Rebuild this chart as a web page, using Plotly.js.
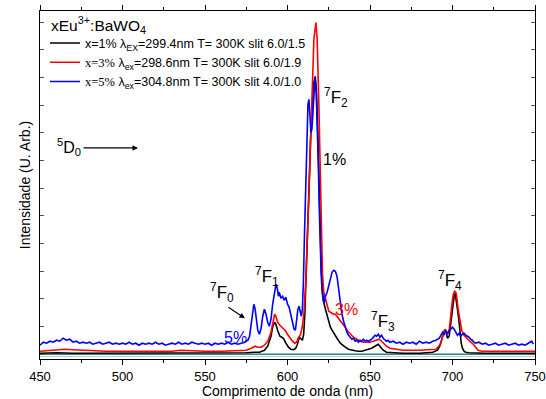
<!DOCTYPE html>
<html>
<head>
<meta charset="utf-8">
<script src="https://cdn.plot.ly/plotly-3.0.1.min.js"></script>
<style>html,body{margin:0;padding:0;background:#fff;}#chart{width:546px;height:399px;}</style>
</head>
<body>
<div id="chart"></div>
<script>
// ---- data (wavelength in nm, intensity in arbitrary units) ----
const blackX = [450,460,470,480,500,520,540,560,570,575,580,583,586,588,590,591,592.2,593,594,595.4,596.5,597.5,599,600.6,602,603.8,605,606,607.2,608,609,609.8,610.5,611.3,612,613,614,615,616,616.8,617.5,618.3,619,619.8,620.5,621.3,622,623,624,625,626,627,628,630,632,633.4,635,637,639,641,643,645,647,649,651,653,655,656.5,658,660,665,670,680,688,691,692.5,694,695,695.8,697,698,699,700,701,701.6,702.3,703,703.8,704.5,705.3,706,707,708,710,720,750];
const blackY = [1,1.5,1,1,1,1,1,1,1.5,1.5,2,2,4,8,18,27,32,30,24,18,17,16,11,7,5,4.5,6,10,17,16,14,20,40,80,120,170,215,250,272,278,265,225,175,120,85,62,52,45,38,32,27,24,21,16,11,9,7,5,4,3.5,3,3,4,5,6,8,10,7,4,2,1.5,1,1,2,4,9,18,23,24,16,18,32,48,58,61,55,45,35,22,11,6,3,2,1.5,1,1];

const redX = [450,455,460,465,470,475,480,490,500,510,520,530,535,540,550,560,570,575,578,580.5,582,584,586,588,590,591,592.2,593,594,595.4,597,598.5,600,601.5,603,604.5,605.5,606.5,607.3,608,609,610,611,612,613,614,615,616,617.2,618,619,619.8,620.5,621.2,622,623,624,625,626,627,628,629,630,631,632,633.8,635,636.5,638,640,642,644,646,648,650,652,654,655.6,657,658,660,662,665,670,680,688,690,692.4,693.5,694.5,695.3,696,697,698,699,700,700.5,701.3,702,702.6,703.5,704.5,705.6,707,708.6,710.5,712.6,714,715.5,718,720,730,740,750];
const redY = [3,3.5,4,5,4.5,4,3.5,3,3,3,3,3,4,3.5,3,3,3.5,4,6,8,7,7,9,13,22,32,40,38,32,29,26,24,20,16,13,11,12,16,18,20,28,42,70,110,160,215,270,315,332,315,250,180,120,80,62,55,47,43,42,41,40,40,38,35,33,30,27,23,20,17,15,13,12,12,12,13,14,15,13,11,8,6,5,4,4,4.5,5,9.5,14,21,25,23,20,24,44,55,60,63,62,57,44,34,24,19,16,13,10,7,4,3,3,3,3,3];

const blueX = [450,452,454,456,458,460,462,464,466,468,470,472,474,476,478,480,482,484,486,488,490,492,494,496,498,500,502,504,506,508,510,512,514,516,518,520,522,524,526,528,530,532,534,536,538,540,542,544,546,548,550,552,554,556,558,560,562,564,566,568,570,572,574,576,577,578,579,579.6,580.3,581,582,583,584,585,586,587,588,589,590,591,592,593,593.8,594.5,595,596,597,598,599,600,601,602,603,604,604.8,605.5,606.3,607,607.7,608.4,609,609.6,610.3,611,611.7,612.4,613,613.6,614.2,614.8,615.4,616,616.7,617.4,618,618.6,619.2,619.8,620.4,621,621.7,622.4,623,624,625,626,627,628,629,630,631,632,633,634,635,636,637,638,639,640,641,642,643,644,645,646,647,648,649,650,651,652,653,654,655,656,657,658,659,660,661,662,664,666,668,670,672,674,676,678,680,682,684,686,688,690,692,693,694,695,696,697,698,699,700,701,702,703,704,705,706,707,708,709,710,711,712,713,714,716,718,720,722,724,726,728,730,732,734,736,738,740,742,744,746,748,749,750];
const blueY = [9,12,11,13,12,14,13,16,14,15,12,13,11,12,11,12,10,11,12,10,11,12,10,11,10,11,10,12,10,11,9,11,10,11,10,12,10,11,9,10,11,10,12,10,11,10,12,11,10,11,10,11,9,11,10,11,10,12,10,11,10,11,12,14,18,30,45,50,46,35,24,20,26,38,45,40,32,28,35,50,62,70,66,58,62,56,58,54,57,50,47,40,33,25,24,35,45,48,42,38,45,70,120,175,225,250,255,240,222,225,245,266,277,262,235,195,150,110,80,62,53,52,58,62,68,74,82,84,83,78,64,50,40,33,27,22,19,17,15,16,13,14,12,14,13,15,13,14,13,14,15,17,19,18,20,17,19,16,14,13,14,12,13,11,12,10,12,11,12,10,13,11,12,11,13,14,16,19,22,20,23,21,24,25,27,25,22,19,21,18,20,21,19,18,17,15,14,12,11,12,10,11,9,10,11,9,10,11,9,10,11,9,10,9,11,13,10];

const baseX = [450,750];
const tealY = [0,0];
const grayY = [-2.3,-2.3];

const legendNames = [
  "x=1% λ<sub>EX</sub>=299.4nm T= 300K slit 6.0/1.5",
  "<span style=\"font-family:'Liberation Serif'\">x=3%</span> λ<sub>ex</sub>=298.6nm T= 300K slit 6.0/1.9",
  "<span style=\"font-family:'Liberation Serif'\">x=5%</span> λ<sub>ex</sub>=304.8nm T= 300K slit 4.0/1.0"
];
const xTickVals = [450,500,550,600,650,700,750];

const FONT = "Liberation Sans, Arial, sans-serif";

const traces = [
  {x: baseX, y: grayY, mode: 'lines', line: {color: '#c8c8c8', width: 1.2}, showlegend: false, hoverinfo: 'skip'},
  {x: baseX, y: tealY, mode: 'lines', line: {color: '#1a8a8a', width: 1.6}, showlegend: false, hoverinfo: 'skip'},
  {x: blackX, y: blackY, mode: 'lines', name: legendNames[0], line: {color: '#000000', width: 1.6}},
  {x: redX, y: redY, mode: 'lines', name: legendNames[1], line: {color: '#ff0000', width: 1.6}},
  {x: blueX, y: blueY, mode: 'lines', name: legendNames[2], line: {color: '#0000ff', width: 1.6}}
];

function lab(text, x, y, size, color) {
  return {text: text, x: x, y: y, xref: 'x', yref: 'y', showarrow: false,
          font: {family: FONT, size: size, color: color || '#000'}};
}

const annotations = [
  {text: "xEu<sup>3+</sup>:BaWO<sub>4</sub>", x: 455.5, y: 329.5, xref: 'x', yref: 'y', xanchor: 'left', showarrow: false, font: {family: FONT, size: 15.5, color: '#000'}},
  lab("<sup>5</sup>D<sub>0</sub>", 467.5, 207.5, 16),
  {text: "", x: 509.4, y: 206.5, xref: 'x', yref: 'y', showarrow: true, ax: -56, ay: 0, arrowhead: 2, arrowsize: 1, arrowwidth: 1.1, arrowcolor: '#000'},
  lab("<sup>7</sup>F<sub>0</sub>", 560.3, 61.5, 17),
  {text: "", x: 574.2, y: 36, xref: 'x', yref: 'y', showarrow: true, ax: -18, ay: -12, arrowhead: 2, arrowsize: 1, arrowwidth: 1.1, arrowcolor: '#000'},
  lab("<sup>7</sup>F<sub>1</sub>", 587.6, 77.5, 17),
  lab("<sup>7</sup>F<sub>2</sub>", 629.4, 256.5, 17),
  lab("1%", 628.2, 194.5, 16),
  lab("3%", 635.5, 44.5, 16, '#ff0000'),
  lab("5%", 568.2, 16.5, 16, '#0000ff'),
  lab("<sup>7</sup>F<sub>3</sub>", 657.9, 32.5, 17),
  lab("<sup>7</sup>F<sub>4</sub>", 698.5, 73.5, 17)
];

const layout = {
  width: 546, height: 399,
  margin: {l: 40, r: 11, t: 11, b: 40, pad: 0},
  paper_bgcolor: '#ffffff', plot_bgcolor: '#ffffff',
  font: {family: FONT, size: 13, color: '#000'},
  showlegend: true,
  legend: {x: 0.01, y: 0.95, xanchor: 'left', yanchor: 'top', bgcolor: 'rgba(0,0,0,0)',
           font: {family: FONT, size: 12.5, color: '#000'}, tracegroupgap: 0, itemwidth: 30},
  xaxis: {range: [450, 750], tickvals: xTickVals, ticktext: xTickVals.map(String),
          ticks: 'outside', ticklen: 5, tickwidth: 1, tickcolor: '#000',
          minor: {dtick: 25, tick0: 450, ticks: 'outside', ticklen: 3, tickcolor: '#000'},
          showline: true, linecolor: '#000', linewidth: 1.2, mirror: 'ticks',
          showgrid: false, zeroline: false,
          tickfont: {family: FONT, size: 13, color: '#000'},
          title: {text: 'Comprimento de onda (nm)', font: {family: FONT, size: 14, color: '#000'}, standoff: 2}},
  yaxis: {range: [-4.8, 343.5], showticklabels: false, ticks: 'inside', tick0: 0, dtick: 27.7,
          ticklen: 4, tickcolor: '#555', showline: true, linecolor: '#000', linewidth: 1.2, mirror: 'ticks',
          showgrid: false, zeroline: false,
          title: {text: 'Intensidade (U. Arb.)', font: {family: FONT, size: 14, color: '#000'}, standoff: 5}},
  annotations: annotations
};

Plotly.newPlot('chart', traces, layout, {staticPlot: true, displayModeBar: false});
</script>
</body>
</html>
